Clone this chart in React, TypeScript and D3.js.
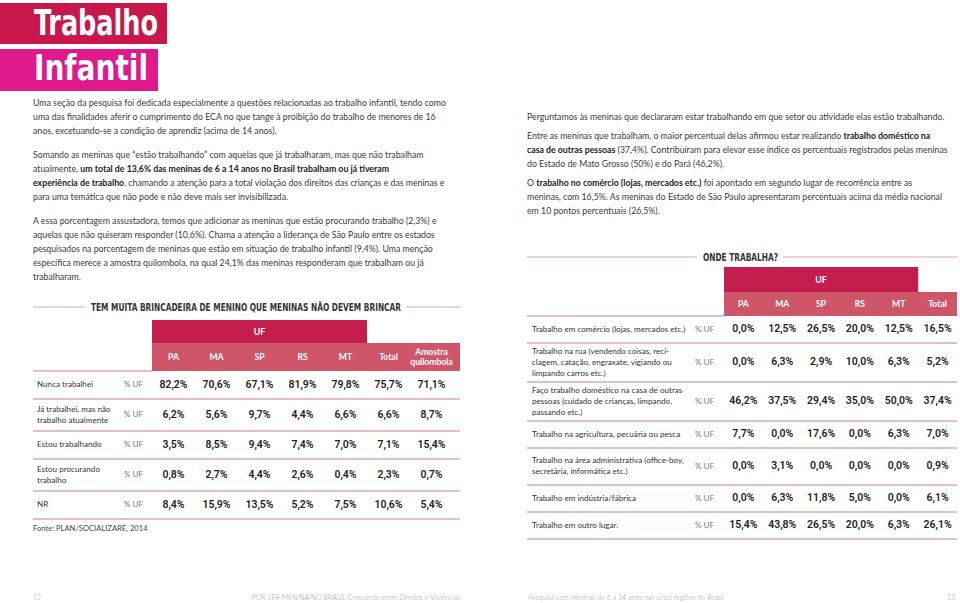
import React from "react";
import * as d3 from "d3";

// ---------- DATA ----------
const titleLines = ["Trabalho", "Infantil"];

const leftParagraphs: string[][] = [
  [
    "Uma seção da pesquisa foi dedicada especialmente a questões relacionadas ao trabalho infantil, tendo como",
    "uma das finalidades aferir o cumprimento do ECA no que tange à proibição do trabalho de menores de 16",
    "anos, excetuando-se a condição de aprendiz (acima de 14 anos).",
  ],
  [
    "Somando as meninas que “estão trabalhando” com aquelas que já trabalharam, mas que não trabalham",
    "atualmente, **um total de 13,6% das meninas de 6 a 14 anos no Brasil trabalham ou já tiveram**",
    "**experiência de trabalho**, chamando a atenção para a total violação dos direitos das crianças e das meninas e",
    "para uma temática que não pode e não deve mais ser invisibilizada.",
  ],
  [
    "A essa porcentagem assustadora, temos que adicionar as meninas que estão procurando trabalho (2,3%) e",
    "aquelas que não quiseram responder (10,6%). Chama a atenção a liderança de São Paulo entre os estados",
    "pesquisados na porcentagem de meninas que estão em situação de trabalho infantil (9,4%). Uma menção",
    "específica merece a amostra quilombola, na qual 24,1% das meninas responderam que trabalham ou já",
    "trabalharam.",
  ],
];

const rightParagraphs: string[][] = [
  ["Perguntamos às meninas que declararam estar trabalhando em que setor ou atividade elas estão trabalhando."],
  [
    "Entre as meninas que trabalham, o maior percentual delas afirmou estar realizando **trabalho doméstico na**",
    "**casa de outras pessoas** (37,4%). Contribuíram para elevar esse índice os percentuais registrados pelas meninas",
    "do Estado de Mato Grosso (50%) e do Pará (46,2%).",
  ],
  [
    "O **trabalho no comércio (lojas, mercados etc.)** foi apontado em segundo lugar de recorrência entre as",
    "meninas, com 16,5%. As meninas do Estado de São Paulo apresentaram percentuais acima da média nacional",
    "em 10 pontos percentuais (26,5%).",
  ],
];

const leftTableTitle = "TEM MUITA BRINCADEIRA DE MENINO QUE MENINAS NÃO DEVEM BRINCAR";
const rightTableTitle = "ONDE TRABALHA?";
const groupLabel = "UF";
const unitLabel = "% UF";

const leftColumns = ["PA", "MA", "SP", "RS", "MT", "Total", "Amostra|quilombola"];
const leftRows = [
  "Nunca trabalhei",
  "Já trabalhei, mas não|trabalho atualmente",
  "Estou trabalhando",
  "Estou procurando|trabalho",
  "NR",
];
const leftValues: number[][] = [
  [82.2, 70.6, 67.1, 81.9, 79.8, 75.7, 71.1],
  [6.2, 5.6, 9.7, 4.4, 6.6, 6.6, 8.7],
  [3.5, 8.5, 9.4, 7.4, 7.0, 7.1, 15.4],
  [0.8, 2.7, 4.4, 2.6, 0.4, 2.3, 0.7],
  [8.4, 15.9, 13.5, 5.2, 7.5, 10.6, 5.4],
];
const sourceLabel = "Fonte: PLAN/SOCIALIZARE, 2014";

const rightColumns = ["PA", "MA", "SP", "RS", "MT", "Total"];
const rightRows = [
  "Trabalho em comércio (lojas, mercados etc.)",
  "Trabalho na rua (vendendo coisas, reci-|clagem, catação, engraxate, vigiando ou|limpando carros etc.)",
  "Faço trabalho doméstico na casa de outras|pessoas (cuidado de crianças, limpando,|passando etc.)",
  "Trabalho na agricultura, pecuária ou pesca",
  "Trabalho na área administrativa (office-boy,|secretária, informática etc.)",
  "Trabalho em indústria/fábrica",
  "Trabalho em outro lugar.",
];
const rightValues: number[][] = [
  [0.0, 12.5, 26.5, 20.0, 12.5, 16.5],
  [0.0, 6.3, 2.9, 10.0, 6.3, 5.2],
  [46.2, 37.5, 29.4, 35.0, 50.0, 37.4],
  [7.7, 0.0, 17.6, 0.0, 6.3, 7.0],
  [0.0, 3.1, 0.0, 0.0, 0.0, 0.9],
  [0.0, 6.3, 11.8, 5.0, 0.0, 6.1],
  [15.4, 43.8, 26.5, 20.0, 6.3, 26.1],
];

const footerLeftPage = "12";
const footerLeftText = "POR SER MENINA NO BRASIL Crescendo entre Direitos e Violências";
const footerRightText = "Pesquisa com meninas de 6 a 14 anos nas cinco regiões do Brasil";
const footerRightPage = "13";

// ---------- STYLE ----------
const C_TITLE1 = "#c8174c";
const C_TITLE2 = "#e01a8b";
const C_UF = "#c41e4e";
const C_SUB = "#cf5568";
const C_LINE = "#d9a8b7";
const C_TEXT = "#3a3a3a";
const BODY_FONT = "Lato, 'Open Sans', sans-serif";
const NUM_FONT = "Roboto, 'Liberation Sans', sans-serif";
const HEAD_FONT = "'DejaVu Sans Condensed', 'DejaVu Sans', sans-serif";
const BODY_SIZE = 8.75;
const LABEL_SIZE = 8.1;

const fmt = (v: number) => d3.format(".1f")(v).replace(".", ",") + "%";

function RichLine({ line, x, y, size }: { line: string; x: number; y: number; size: number }) {
  const parts = line.split("**");
  return (
    <text x={x} y={y} fontFamily={BODY_FONT} fontSize={size} fill={C_TEXT} dominantBaseline="central">
      {parts.map((p, i) => (
        <tspan key={i} fontWeight={i % 2 === 1 ? 700 : 400} fill={i % 2 === 1 ? "#222" : C_TEXT}>
          {p}
        </tspan>
      ))}
    </text>
  );
}

function Paragraphs({ paras, x, y0, lh, gap, size }: { paras: string[][]; x: number; y0: number; lh: number; gap: number; size: number }) {
  const out: React.ReactNode[] = [];
  let y = y0;
  paras.forEach((p, pi) => {
    p.forEach((line, li) => {
      out.push(<RichLine key={pi + "-" + li} line={line} x={x} y={y} size={size} />);
      y += lh;
    });
    y += gap;
  });
  return <g>{out}</g>;
}

function MultiText({ text, x, y, lh, anchor, size, fill, weight, family }: any) {
  const lines = text.split("|");
  const start = y - ((lines.length - 1) * lh) / 2;
  return (
    <text x={x} fontFamily={family} fontSize={size} fill={fill} fontWeight={weight} textAnchor={anchor} dominantBaseline="central">
      {lines.map((l: string, i: number) => (
        <tspan key={i} x={x} y={start + i * lh}>
          {l}
        </tspan>
      ))}
    </text>
  );
}

function layoutRows(rows: string[], top: number, hFor: (n: number) => number) {
  let y = top;
  return rows.map((r) => {
    const n = r.split("|").length;
    const h = hFor(n);
    const res = { label: r, top: y, bottom: y + h, mid: y + h / 2 - 1 };
    y += h;
    return res;
  });
}

function Table({
  columns, rows, values, x0, x1, colRange, subRight, ufTop, subTop, headBottom, hFor, labelX, unitX, title, titleX0, titleX1, titleY, titleLen, lineRight,
}: any) {
  const xs = d3.scaleBand<string>().domain(columns).range(colRange);
  const bw = xs.bandwidth();
  const ufRight = (xs(columns[4]) as number) + bw;
  const laid = layoutRows(rows, headBottom, hFor);
  return (
    <g>
      <line x1={x0} x2={titleX0 - 6} y1={titleY} y2={titleY} stroke={C_LINE} strokeWidth={1.2} />
      <line x1={titleX1 + 5} x2={lineRight} y1={titleY} y2={titleY} stroke={C_LINE} strokeWidth={1.2} />
      <text x={titleX0} y={titleY} fontFamily={HEAD_FONT} fontWeight={700} fontSize={10} fill="#333" dominantBaseline="central" textLength={titleLen} lengthAdjust="spacingAndGlyphs">
        {title}
      </text>
      <rect x={colRange[0]} y={ufTop} width={ufRight - colRange[0]} height={subTop - ufTop} fill={C_UF} />
      <rect x={colRange[0]} y={subTop} width={subRight - colRange[0]} height={headBottom - subTop} fill={C_SUB} />
      <text x={(colRange[0] + ufRight) / 2} y={(ufTop + subTop) / 2} fill="#fff" fontFamily={BODY_FONT} fontWeight={700} fontSize={8.8} textAnchor="middle" dominantBaseline="central">
        {groupLabel}
      </text>
      {columns.map((c: string) => (
        <MultiText key={c} text={c} x={(xs(c) as number) + bw / 2} y={(subTop + headBottom) / 2} lh={10} anchor="middle" size={8.6} fill="#fff" weight={700} family={BODY_FONT} />
      ))}
      <line x1={x0} x2={colRange[0]} y1={headBottom} y2={headBottom} stroke={C_LINE} strokeWidth={1.5} />
      {laid.map((r: any, i: number) => (
        <g key={i}>
          <MultiText text={r.label} x={labelX} y={r.mid} lh={11} anchor="start" size={LABEL_SIZE} fill="#333" weight={400} family={BODY_FONT} />
          <text x={unitX} y={r.mid} fontFamily={BODY_FONT} fontSize={LABEL_SIZE} fill="#777" dominantBaseline="central">
            {unitLabel}
          </text>
          {values[i].map((v: number, j: number) => (
            <text key={j} x={(xs(columns[j]) as number) + bw / 2} y={r.mid} fontFamily={NUM_FONT} fontWeight={600} fontSize={10.5} fill="#222" textAnchor="middle" dominantBaseline="central">
              {fmt(v)}
            </text>
          ))}
          <line x1={x0} x2={x1} y1={r.bottom} y2={r.bottom} stroke={C_LINE} strokeWidth={1.5} />
        </g>
      ))}
    </g>
  );
}

export default function App() {
  return (
    <svg width={960} height={603} style={{ position: "absolute", left: 0, top: 0, background: "#fff" }}>
      <rect width={960} height={603} fill="#fff" />
      <rect x={0} y={3} width={167} height={41} fill={C_TITLE1} />
      <rect x={0} y={49} width={158} height={42} fill={C_TITLE2} />
      <text x={34} y={35} fill="#fff" fontFamily={HEAD_FONT} fontWeight={700} fontSize={35} textLength={124} lengthAdjust="spacingAndGlyphs">
        {titleLines[0]}
      </text>
      <text x={34} y={80} fill="#fff" fontFamily={HEAD_FONT} fontWeight={700} fontSize={35} textLength={114} lengthAdjust="spacingAndGlyphs">
        {titleLines[1]}
      </text>

      <Paragraphs paras={leftParagraphs} x={33} y0={102} lh={14} gap={10} size={BODY_SIZE} />
      <Paragraphs paras={rightParagraphs} x={527} y0={116} lh={14} gap={5} size={BODY_SIZE} />

      <Table
        columns={leftColumns}
        rows={leftRows}
        values={leftValues}
        x0={33}
        x1={460}
        colRange={[152, 453]}
        subRight={460}
        ufTop={320}
        subTop={343}
        headBottom={371}
        hFor={(n: number) => (n === 1 ? 28 : 32)}
        labelX={37}
        unitX={124}
        title={leftTableTitle}
        titleX0={91}
        titleX1={401}
        titleY={307}
        titleLen={310}
        lineRight={461}
      />
      <text x={33} y={528} fontFamily={BODY_FONT} fontSize={7.6} fill="#444" dominantBaseline="central">
        {sourceLabel}
      </text>

      <Table
        columns={rightColumns}
        rows={rightRows}
        values={rightValues}
        x0={527}
        x1={957}
        colRange={[724, 957]}
        subRight={957}
        ufTop={267}
        subTop={292}
        headBottom={316}
        hFor={(n: number) => (n === 1 ? 27 : n === 2 ? 37 : 39)}
        labelX={532}
        unitX={695}
        title={rightTableTitle}
        titleX0={703}
        titleX1={778}
        titleY={257}
        titleLen={75}
        lineRight={957}
      />

      <g fontFamily={BODY_FONT} fontSize={7.0} fill="#9a9a9a" fontWeight={300}>
        <text x={33} y={597} dominantBaseline="central">{footerLeftPage}</text>
        <text x={252} y={597} dominantBaseline="central">{footerLeftText}</text>
        <text x={528} y={597} dominantBaseline="central">{footerRightText}</text>
        <text x={955} y={597} dominantBaseline="central" textAnchor="end">{footerRightPage}</text>
      </g>
    </svg>
  );
}
